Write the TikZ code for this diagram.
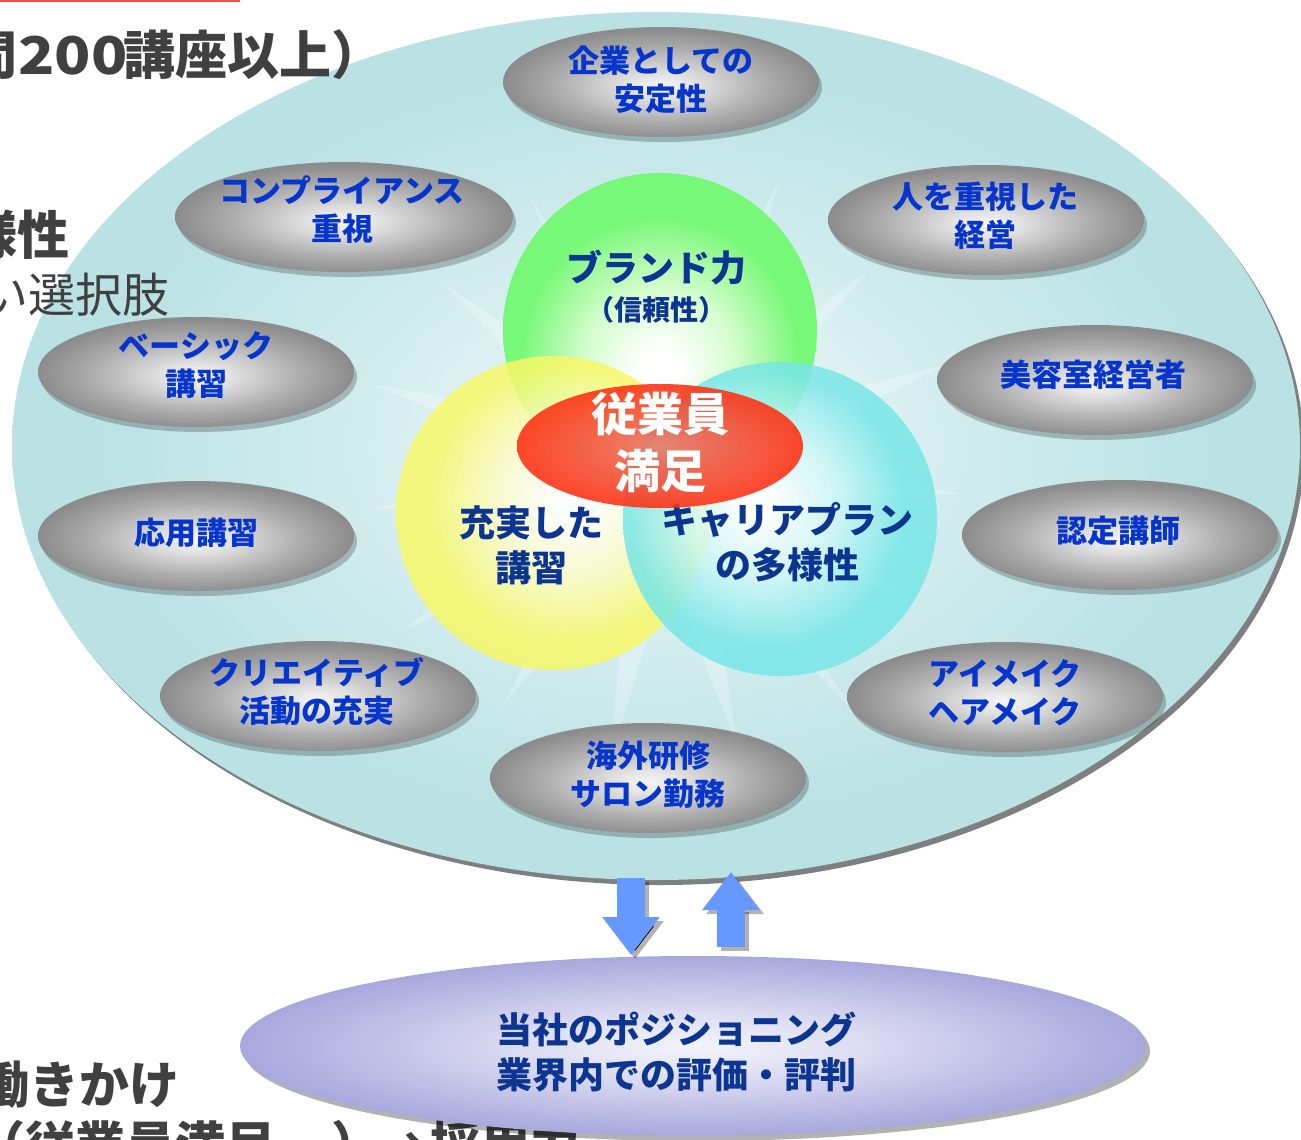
\documentclass[tikz,border=0pt]{standalone}
\usepackage{fontspec}
\newfontfamily\jp{Noto Sans CJK JP}
\usetikzlibrary{shapes.geometric,shadows,arrows.meta}
\definecolor{tealc0}{HTML}{F0F9FA}
\definecolor{tealc1}{HTML}{E0F2F3}
\definecolor{tealc2}{HTML}{CAE9EB}
\definecolor{tealc3}{HTML}{BAE2E5}
\definecolor{gcen}{HTML}{F6F6F6}
\definecolor{gmid}{HTML}{E4E4E4}
\definecolor{gdark}{HTML}{ABABAB}
\definecolor{gedge}{HTML}{8C8C8C}
\definecolor{lav0}{HTML}{F4F4FB}
\definecolor{lav1}{HTML}{E0E0F4}
\definecolor{lav2}{HTML}{A8A8DD}
\definecolor{grn}{HTML}{78F878}
\definecolor{grnm}{HTML}{D4FDCC}
\definecolor{yel}{HTML}{F8F868}
\definecolor{yelm}{HTML}{FCFCC8}
\definecolor{cya}{HTML}{78E6E8}
\definecolor{cyam}{HTML}{CCF6F6}
\definecolor{red0}{HTML}{EA7A6A}
\definecolor{red1}{HTML}{F25A44}
\definecolor{red2}{HTML}{FF2E10}
\definecolor{tblue}{HTML}{0535CC}
\definecolor{navy}{HTML}{0C3592}
\definecolor{ablue}{HTML}{6699FF}
\definecolor{bgtext}{HTML}{404040}
\definecolor{topred}{HTML}{FF4B4B}
% path bounding box maps onto the central 50bp x 50bp of a 100bp shading
\pgfdeclareradialshading{tealball}{\pgfpoint{0bp}{0bp}}{color(0bp)=(tealc0); color(7bp)=(tealc1); color(15bp)=(tealc2); color(22bp)=(tealc3); color(50bp)=(tealc3)}
\pgfdeclareradialshading{grayball}{\pgfpoint{0bp}{-2bp}}{color(0bp)=(gcen); color(5bp)=(gmid); color(17bp)=(gdark); color(25bp)=(gedge); color(50bp)=(gedge)}
\pgfdeclareradialshading{lavball}{\pgfpoint{0bp}{0bp}}{color(0bp)=(lav0); color(8bp)=(lav1); color(25bp)=(lav2); color(50bp)=(lav2)}
\pgfdeclareradialshading{greenball}{\pgfpoint{0bp}{-7bp}}{color(0bp)=(white); color(3bp)=(white); color(12bp)=(grnm); color(22bp)=(grn); color(50bp)=(grn)}
\pgfdeclareradialshading{yellowball}{\pgfpoint{4bp}{3bp}}{color(0bp)=(white); color(3bp)=(white); color(12bp)=(yelm); color(22bp)=(yel); color(50bp)=(yel)}
\pgfdeclareradialshading{cyanball}{\pgfpoint{-4bp}{3bp}}{color(0bp)=(white); color(3bp)=(white); color(12bp)=(cyam); color(22bp)=(cya); color(50bp)=(cya)}
\pgfdeclareradialshading{redball}{\pgfpoint{0bp}{0bp}}{color(0bp)=(red0); color(9bp)=(red1); color(25bp)=(red2); color(50bp)=(red2)}
\newcommand\jst{\rule[-0.12em]{0pt}{1em}}
\begin{document}
\begin{tikzpicture}[x=1pt,y=-1pt,
  grayell/.style={ellipse, minimum width=316pt, minimum height=110pt, inner sep=0pt, shade, shading=grayball,
    drop shadow={shadow xshift=3pt, shadow yshift=-5pt, opacity=0.22, fill=black}},
  glbl/.style={font=\jp\bfseries\fontsize{31}{38}\selectfont, text=tblue, align=center, inner sep=0pt},
  clbl/.style={font=\jp\bfseries\fontsize{36}{45}\selectfont, text=navy, align=center, inner sep=0pt},
  ball/.style={circle, minimum size=314pt, inner sep=0pt, shade},
  bgb/.style={font=\jp\bfseries, text=bgtext, inner sep=0pt},
  barrow/.style={draw=ablue, line width=28pt, -{Triangle[width=55pt,length=38pt]}},
  ashadow/.style={draw=black, draw opacity=0.3, line width=28pt, -{Triangle[width=55pt,length=38pt]}}
]
\useasboundingbox (0,0) rectangle (1301,1140);
\clip (0,0) rectangle (1301,1140);
\fill[white] (0,0) rectangle (1301,1140);
\fill[topred] (0,0) rectangle (240,2.5);

% big ellipse
\node[ellipse, minimum width=1288pt, minimum height=868pt, inner sep=0pt, shade, shading=tealball,
  drop shadow={shadow xshift=4pt, shadow yshift=-5pt, opacity=0.5, fill=black}] (big) at (656,446) {};

% starburst shards
\foreach \a/\r in {5/300,28/280,52/310,75/290,100/300,124/285,148/310,172/295,196/305,220/285,244/300,268/290,292/310,316/285,340/300}{
  \fill[white, opacity=0.25] ([shift={(\a-6:150)}]663,468) -- ([shift={(\a:\r)}]663,468) -- ([shift={(\a+6:150)}]663,468) -- cycle;
}

% background texts (cropped slide text)
\node[bgb, font=\jp\bfseries\fontsize{52}{60}\selectfont, anchor=base east] (t1a) at (18,74.5) {間};
\node[bgb, font=\jp\bfseries\fontsize{52}{60}\selectfont, anchor=base west, xscale=1.15] (t1b) at (18,74.5) {200};
\node[bgb, font=\jp\bfseries\fontsize{52}{60}\selectfont, anchor=base west] (t1c) at (123,74.5) {講座以上）};
\node[bgb, font=\jp\bfseries\fontsize{52}{60}\selectfont, anchor=east] (t2) at (70,235) {様性};
\node[font=\jp\fontsize{47}{55}\selectfont, text=bgtext, inner sep=0pt, anchor=east] (t3) at (170,295) {い選択肢};
\node[bgb, font=\jp\bfseries\fontsize{50}{58}\selectfont, anchor=east] (t4) at (180,1085) {働きかけ};
\node[bgb, font=\jp\bfseries\fontsize{50}{58}\selectfont, anchor=base west] (t5a) at (-25,1163) {（従業員満足};
\node[bgb, font=\jp\bfseries\fontsize{50}{58}\selectfont, anchor=base west] (t5b) at (331,1163) {）};
\node[bgb, font=\jp\bfseries\fontsize{50}{58}\selectfont, anchor=base west] (t5c) at (376,1163) {→};
\node[bgb, font=\jp\bfseries\fontsize{50}{58}\selectfont, anchor=base west] (t5d) at (430,1163) {採用力};

% three circles
\node[ball, shading=greenball] (green) at (660,330) {};
\node[ball, shading=yellowball, fill opacity=0.85] (yellow) at (553,513) {};
\node[ball, shading=cyanball, fill opacity=0.85] (cyan) at (780,519) {};
\node[clbl] (brand) at (656,268) {ブランド力};
\node[clbl, font=\jp\bfseries\fontsize{28}{34}\selectfont] (trust) at (656,310) {（信頼性）};
\node[clbl] (lesson) at (531,545) {\jst 充実した\\\jst 講習};
\node[clbl] (career) at (787,542) {\jst キャリアプラン\\\jst の多様性};
% red ellipse
\node[ellipse, minimum width=286pt, minimum height=124pt, inner sep=0pt, shade, shading=redball, fill opacity=0.88] (es) at (660,446) {};
\node[font=\jp\bfseries\fontsize{46}{57}\selectfont, text=white, align=center, inner sep=0pt] (estxt) at (660,443) {\jst 従業員\\\jst 満足};

% gray ellipses
\node[grayell] (e1) at (661,82) {};
\node[glbl] at (e1.center) [yshift=2pt] {\jst 企業としての\\\jst 安定性};
\node[grayell, minimum width=338pt] (e2) at (344,217) {};
\node[glbl] at (342,210) {\jst コンプライアンス\\\jst 重視};
\node[grayell] (e3) at (986,220) {};
\node[glbl] at (985,216) {\jst 人を重視した\\\jst 経営};
\node[grayell] (e4) at (196,372) {};
\node[glbl] at (196,365) {\jst ベーシック\\\jst 講習};
\node[grayell] (e5) at (1095,380) {};
\node[glbl] at (1093,375) {\jst 美容室経営者};
\node[grayell] (e6) at (196,536) {};
\node[glbl] at (196,533) {\jst 応用講習};
\node[grayell] (e7) at (1120,535) {};
\node[glbl] at (1118,531) {\jst 認定講師};
\node[grayell] (e8) at (318,696) {};
\node[glbl] at (317,692) {\jst クリエイティブ\\\jst 活動の充実};
\node[grayell] (e9) at (1005,697) {};
\node[glbl] at (1005,693) {\jst アイメイク\\\jst ヘアメイク};
\node[grayell] (e10) at (648,778) {};
\node[glbl] at (648,775) {\jst 海外研修\\\jst サロン勤務};

% bottom ellipse
\node[ellipse, minimum width=906pt, minimum height=180pt, inner sep=0pt, shade, shading=lavball,
  drop shadow={shadow xshift=4pt, shadow yshift=-5pt, opacity=0.3, fill=black}] (pos) at (693,1046) {};
\node[font=\jp\bfseries\fontsize{36}{45}\selectfont, text=navy, align=center, inner sep=0pt] (postxt) at (676,1052) {\jst 当社のポジショニング\\\jst 業界内での評価・評判};

% arrows
\coordinate (d1) at (631,878);
\coordinate (d2) at (631,955);
\coordinate (u1) at (731,947);
\coordinate (u2) at (731,872);
\draw[ashadow] ([shift={(4,4)}]d1) -- ([shift={(4,4)}]d2);
\draw[ashadow] ([shift={(4,4)}]u1) -- ([shift={(4,4)}]u2);
\draw[barrow] (d1) -- (d2);
\draw[barrow] (u1) -- (u2);
\end{tikzpicture}
\end{document}
